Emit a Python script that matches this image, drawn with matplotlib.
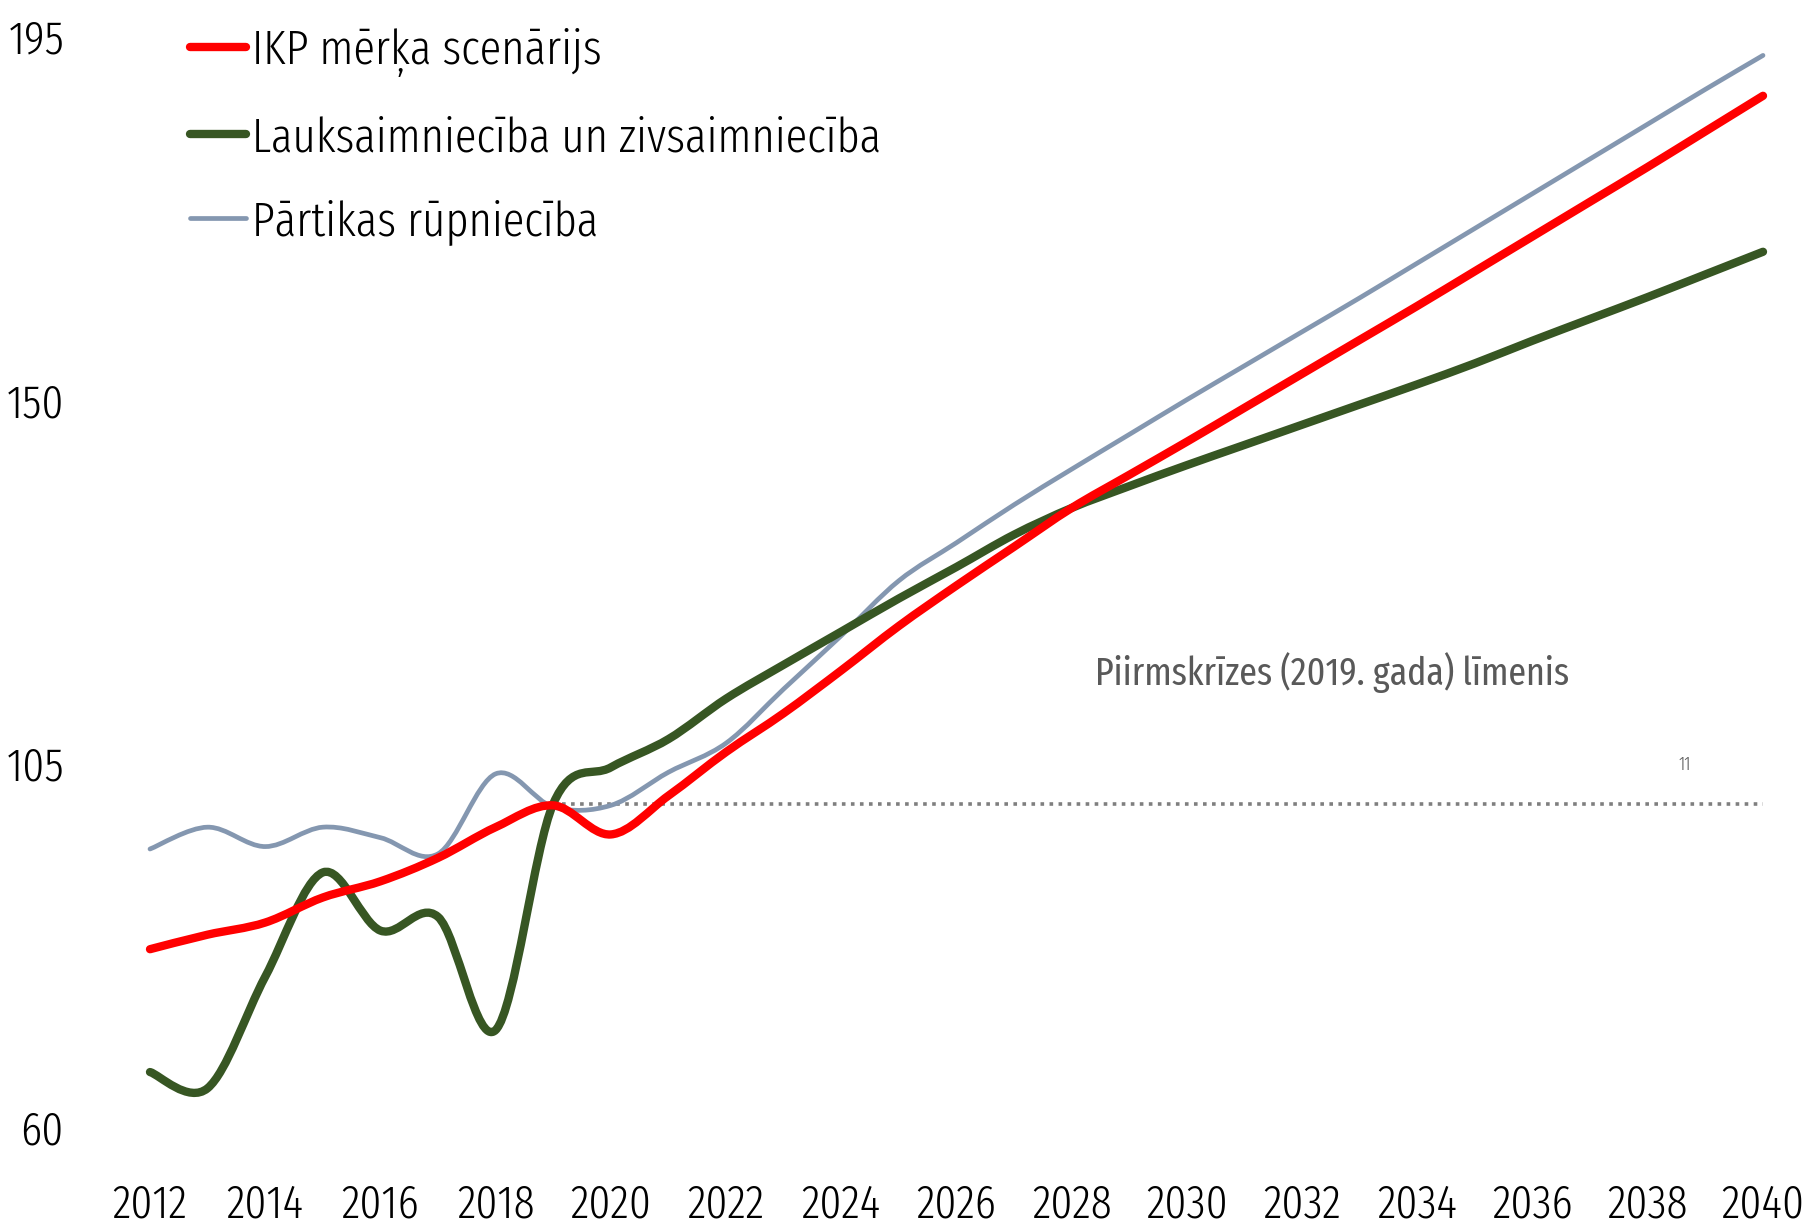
"""Latvian GDP-target scenario vs. agriculture and food industry output, index (2019 = 100)."""
import matplotlib
matplotlib.use("Agg")
import matplotlib.pyplot as plt
from matplotlib.path import Path
from matplotlib.patches import PathPatch
from matplotlib.lines import Line2D

plt.rcParams["font.family"] = ["Fira Sans Extra Condensed", "DejaVu Sans"]
plt.rcParams["font.weight"] = 300

# ---- data (index, 2019 = 100) ----------------------------------------------
YEARS = list(range(2012, 2041))
IKP = [82.0, 83.8, 85.3, 88.4, 90.4, 93.3, 97.1, 99.8, 96.2, 101.0,
       106.4, 111.2, 116.5, 122.0, 127.0, 131.8, 136.6, 140.7, 144.8, 149.0,
       153.2, 157.4, 161.6, 165.9, 170.2, 174.5, 178.8, 183.2, 187.6]
LAUKS = [66.8, 64.8, 78.6, 91.5, 84.3, 86.0, 72.0, 100.0, 104.5, 108.0,
         113.0, 117.2, 121.3, 125.4, 129.3, 133.3, 136.6, 139.3, 141.9, 144.4,
         146.9, 149.4, 151.9, 154.5, 157.3, 160.0, 162.7, 165.5, 168.3]
PARTIKA = [94.4, 97.1, 94.7, 97.1, 95.8, 93.8, 103.7, 99.6, 99.8, 103.9,
           107.5, 114.2, 120.8, 127.6, 132.3, 137.0, 141.4, 145.7, 150.0, 154.2,
           158.4, 162.6, 166.9, 171.2, 175.5, 179.8, 184.1, 188.4, 192.6]
LABELS = ["IKP mērķa scenārijs", "Lauksaimniecība un zivsaimniecība",
          "Pārtikas rūpniecība"]
PRECRISIS_YEAR = 2019
PRECRISIS_LEVEL = 100.0
YTICKS = [60, 105, 150, 195]
XTICKS = list(range(2012, 2041, 2))

C_IKP = "#FF0000"
C_LAUKS = "#375623"
C_PART = "#8497B0"
C_REF = "#7F7F7F"
C_TXT = "#595959"
LW_MAIN, LW_THIN = 6.0, 3.4


def smooth_path(xs, ys):
    """Excel-style smoothed line: cubic Bezier through every data point."""
    pts = list(zip(xs, ys))
    verts = [pts[0]]
    codes = [Path.MOVETO]
    n = len(pts)
    for i in range(n - 1):
        p0 = pts[i - 1] if i > 0 else pts[i]
        p1, p2 = pts[i], pts[i + 1]
        p3 = pts[i + 2] if i + 2 < n else pts[i + 1]
        c1 = (p1[0] + (p2[0] - p0[0]) / 6, p1[1] + (p2[1] - p0[1]) / 6)
        c2 = (p2[0] - (p3[0] - p1[0]) / 6, p2[1] - (p3[1] - p1[1]) / 6)
        verts += [c1, c2, p2]
        codes += [Path.CURVE4] * 3
    return Path(verts, codes)


def draw_series(ax, ys, color, lw, z):
    patch = PathPatch(smooth_path(YEARS, ys), fill=False, edgecolor=color,
                      lw=lw, capstyle="round", joinstyle="round", zorder=z,
                      clip_on=False)
    ax.add_patch(patch)


fig = plt.figure(figsize=(18.03, 12.24), dpi=100)
ax = fig.add_axes([150 / 1803, 1 - 1127 / 1224, 1613 / 1803, 1091 / 1224])

# pre-crisis reference level
ref_x = [y for y in YEARS if y >= PRECRISIS_YEAR]
ax.plot(ref_x, [PRECRISIS_LEVEL] * len(ref_x), color=C_REF, lw=2.6,
        ls=(0, (1, 1.5)), zorder=1)

draw_series(ax, PARTIKA, C_PART, LW_THIN, 3)
draw_series(ax, LAUKS, C_LAUKS, LW_MAIN, 4)
draw_series(ax, IKP, C_IKP, LW_MAIN, 5)

ax.set_xlim(2012, 2040)
ax.set_ylim(60, 195)
ax.set_xticks(XTICKS)
ax.set_yticks(YTICKS)
ax.tick_params(length=0, labelsize=34)
ax.tick_params(axis="y", pad=62)
ax.tick_params(axis="x", pad=40)
for s in ax.spines.values():
    s.set_visible(False)

ax.text(2028.4, 116.2, "Piirmskrīzes (2019. gada) līmenis", fontsize=28,
        color=C_TXT, va="center", ha="left", fontweight=400)
ax.text(2038.65, 104.8, "11", fontsize=13, color=C_TXT, ha="center",
        va="center")

handles = [Line2D([], [], color=C_IKP, lw=LW_MAIN, solid_capstyle="round"),
           Line2D([], [], color=C_LAUKS, lw=LW_MAIN, solid_capstyle="round"),
           Line2D([], [], color=C_PART, lw=LW_THIN, solid_capstyle="round")]
ax.legend(handles, LABELS, loc="upper left",
          bbox_to_anchor=(190 / 1803, 1 - 28 / 1224),
          bbox_transform=fig.transFigure, frameon=False, fontsize=35,
          handlelength=1.15, handletextpad=0.12, labelspacing=0.78,
          borderpad=0, borderaxespad=0)

fig.savefig("out.png", dpi=100)
